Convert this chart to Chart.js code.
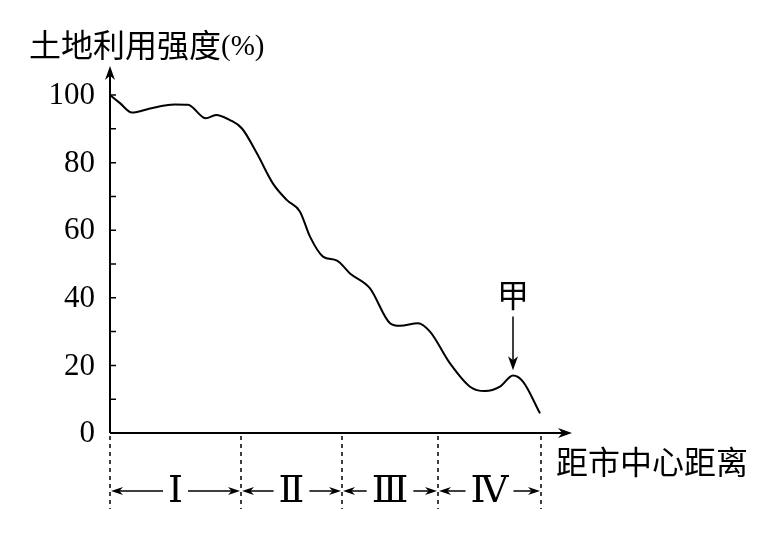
<!DOCTYPE html>
<html>
<head>
<meta charset="utf-8">
<script src="https://cdn.jsdelivr.net/npm/chart.js@4"></script>
<style>
  html, body { margin: 0; padding: 0; background: #fff; }
  #wrap { width: 778px; height: 538px; }
</style>
</head>
<body>
<div id="wrap"><canvas id="myChart" width="778" height="538"></canvas></div>
<script>
// distance from city centre (arbitrary units) and land use intensity (%)
var distance  = [0, 1, 2.2, 4, 5.5, 6.5, 7.8, 9.6, 10.6, 12, 13.2, 14.7, 16.3, 17.7, 19, 20, 21.3, 22.7, 24, 26, 28, 29, 30.8, 32, 34, 36, 37.5, 39, 40.3, 41.3, 43];
var intensity = [100, 97.6, 94.8, 96, 96.9, 97.2, 97.1, 93.1, 94.1, 92.6, 90.1, 82.7, 73.8, 68.9, 65.5, 58.1, 52.2, 51, 47.2, 42.8, 32.5, 31.7, 32.5, 30, 20.6, 13.7, 12.4, 13.7, 17, 15.2, 5.8];

var yTickValues = [0, 20, 40, 60, 80, 100];
var yTickLabels = ['0', '20', '40', '60', '80', '100'];
var yMinorTicks = [10, 20, 30, 40, 50, 60, 70, 80, 90, 100];

var zoneBounds = [0, 13.1, 23.2, 32.8, 43.1];
var zoneLabels = ['Ⅰ', 'Ⅱ', 'Ⅲ', 'Ⅳ'];

var yTitle = '土地利用强度';
var yUnit = '(%)';
var xTitle = '距市中心距离';
var markLabel = '甲';
var markAt = 40.3;

var serif = '"Liberation Serif", "DejaVu Serif", serif';
var cjk = '"Noto Sans CJK SC", sans-serif';

function arrowHead(ctx, x, y, dir, len, half) {
  // dir: 'up','down','left','right'
  ctx.beginPath();
  ctx.moveTo(x, y);
  if (dir === 'up') { ctx.lineTo(x - half, y + len); ctx.lineTo(x, y + len * 0.7); ctx.lineTo(x + half, y + len); }
  if (dir === 'down') { ctx.lineTo(x - half, y - len); ctx.lineTo(x, y - len * 0.7); ctx.lineTo(x + half, y - len); }
  if (dir === 'left') { ctx.lineTo(x + len, y - half); ctx.lineTo(x + len * 0.7, y); ctx.lineTo(x + len, y + half); }
  if (dir === 'right') { ctx.lineTo(x - len, y - half); ctx.lineTo(x - len * 0.7, y); ctx.lineTo(x - len, y + half); }
  ctx.closePath();
  ctx.fill();
}

var decor = {
  id: 'decor',
  afterDraw: function(chart) {
    var ctx = chart.ctx;
    var xs = chart.scales.x, ys = chart.scales.y;
    var x0 = xs.getPixelForValue(0), y0 = ys.getPixelForValue(0);
    var xEnd = xs.right, yTop = ys.top;
    ctx.save();
    ctx.strokeStyle = '#000';
    ctx.fillStyle = '#000';
    ctx.lineWidth = 2;

    // axes
    ctx.beginPath();
    ctx.moveTo(x0, y0); ctx.lineTo(x0, yTop + 4);
    ctx.moveTo(x0, y0); ctx.lineTo(xEnd - 4, y0);
    ctx.stroke();
    arrowHead(ctx, x0, yTop - 2, 'up', 14, 5);
    arrowHead(ctx, xEnd + 2, y0, 'right', 14, 5);

    // y ticks
    ctx.lineWidth = 1.5;
    ctx.beginPath();
    for (var i = 0; i < yMinorTicks.length; i++) {
      var py = ys.getPixelForValue(yMinorTicks[i]);
      ctx.moveTo(x0, py); ctx.lineTo(x0 + 6, py);
    }
    ctx.stroke();

    ctx.font = '31px ' + serif;
    ctx.textAlign = 'right';
    ctx.textBaseline = 'middle';
    for (var j = 0; j < yTickValues.length; j++) {
      ctx.fillText(yTickLabels[j], x0 - 15, ys.getPixelForValue(yTickValues[j]) + 1);
    }

    // titles
    ctx.textAlign = 'left';
    ctx.font = '32px ' + cjk;
    ctx.fillText(yTitle, 29, 45);
    var w = ctx.measureText(yTitle).width;
    ctx.font = '29px ' + serif;
    ctx.fillText(yUnit, 29 + w, 47);
    ctx.font = '32px ' + cjk;
    ctx.fillText(xTitle, 556, 462);

    // zone dashed lines
    ctx.lineWidth = 1.5;
    ctx.setLineDash([4, 4]);
    ctx.beginPath();
    for (var k = 0; k < zoneBounds.length; k++) {
      var px = xs.getPixelForValue(zoneBounds[k]);
      ctx.moveTo(px, y0 + 3); ctx.lineTo(px, y0 + 76);
    }
    ctx.stroke();
    ctx.setLineDash([]);

    // zone labels with double arrows
    var rowY = 491;
    ctx.font = '38px ' + serif;
    ctx.textAlign = 'center';
    ctx.textBaseline = 'middle';
    for (var m = 0; m < zoneLabels.length; m++) {
      var a = xs.getPixelForValue(zoneBounds[m]) + 1;
      var b = xs.getPixelForValue(zoneBounds[m + 1]) - 1;
      var c = (a + b) / 2;
      var hw = ctx.measureText(zoneLabels[m]).width / 2 + 5;
      ctx.fillText(zoneLabels[m], c, rowY + 1);
      ctx.lineWidth = 1.5;
      ctx.beginPath();
      ctx.moveTo(a + 8, rowY); ctx.lineTo(c - hw, rowY);
      ctx.moveTo(c + hw, rowY); ctx.lineTo(b - 8, rowY);
      ctx.stroke();
      arrowHead(ctx, a, rowY, 'left', 12, 4);
      arrowHead(ctx, b, rowY, 'right', 12, 4);
    }

    // 甲 marker
    var mx = xs.getPixelForValue(markAt);
    ctx.font = '32px ' + cjk;
    ctx.fillText(markLabel, mx, ys.getPixelForValue(40.8));
    ctx.lineWidth = 1.5;
    ctx.beginPath();
    ctx.moveTo(mx, ys.getPixelForValue(34.5));
    ctx.lineTo(mx, ys.getPixelForValue(21));
    ctx.stroke();
    arrowHead(ctx, mx, ys.getPixelForValue(18.6), 'down', 14, 5);

    ctx.restore();
  }
};

var points = [];
for (var i = 0; i < distance.length; i++) {
  points.push({ x: distance[i], y: intensity[i] });
}

new Chart(document.getElementById('myChart'), {
  type: 'line',
  data: {
    datasets: [{
      data: points,
      borderColor: '#000',
      borderWidth: 2,
      pointRadius: 0,
      fill: false,
      cubicInterpolationMode: 'monotone'
    }]
  },
  options: {
    responsive: false,
    animation: false,
    layout: { padding: { left: 110, right: 208, top: 68, bottom: 105 } },
    plugins: { legend: { display: false }, tooltip: { enabled: false } },
    scales: {
      x: {
        type: 'linear', min: 0, max: 46,
        display: false
      },
      y: {
        type: 'linear', min: 0, max: 108,
        display: false
      }
    }
  },
  plugins: [decor]
});
</script>
</body>
</html>
